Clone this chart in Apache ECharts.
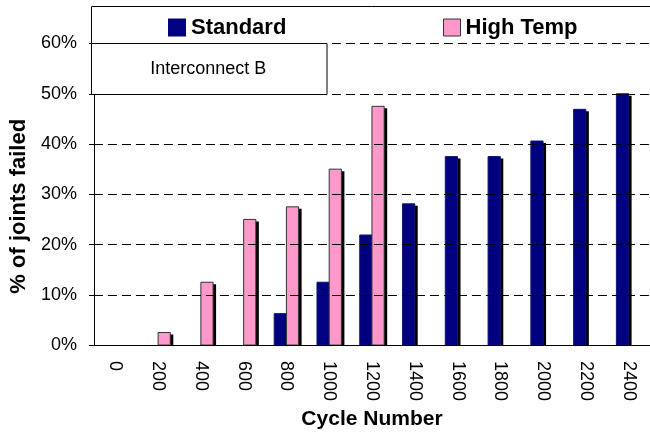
<!DOCTYPE html>
<html>
<head>
<meta charset="utf-8">
<script src="https://cdn.jsdelivr.net/npm/echarts@6/dist/echarts.min.js"></script>
<style>
  html, body { margin: 0; padding: 0; background: #fff; }
  #chart { width: 650px; height: 435px; }
</style>
</head>
<body>
<div id="chart"></div>
<script>
// Thermal cycling results: share of joints failed per cycle count
const cycles = ['0', '200', '400', '600', '800', '1000', '1200', '1400', '1600', '1800', '2000', '2200', '2400'];
const standardPct = [0, 0, 0, 0, 6.25, 12.5, 21.9, 28.1, 37.5, 37.5, 40.6, 46.9, 50];
const highTempPct = [0, 2.5, 12.5, 25, 27.5, 35, 47.5, null, null, null, null, null, null];
const yTicks = [0, 10, 20, 30, 40, 50, 60];

const FONT = '"Liberation Sans", Arial, sans-serif';
const chart = echarts.init(document.getElementById('chart'), null, { renderer: 'canvas' });

// Bar with a hard drop shadow. side -1 = left half of the category slot, +1 = right half.
function shadowBars(name, values, fill, stroke, side) {
  return {
    name: name,
    type: 'custom',
    data: values.map((v, i) => [i, v]),
    encode: { x: 0, y: 1 },
    itemStyle: { color: fill, borderColor: stroke, borderWidth: 1 },
    z: side < 0 ? 2 : 3,
    renderItem: function (params, api) {
      const v = api.value(1);
      if (!(v > 0)) return null;
      const idx = api.value(0);
      const top = api.coord([idx, v]);
      const base = api.coord([idx, 0]);
      const w = api.size([1, 0])[0] * 0.2856;
      const x = side < 0 ? top[0] - w : top[0];
      const h = base[1] - top[1];
      return {
        type: 'group',
        children: [
          { type: 'rect', shape: { x: x + 3, y: top[1] + 2, width: w, height: h - 1 }, style: { fill: '#000' } },
          { type: 'rect', shape: { x: x, y: top[1], width: w, height: h }, style: { fill: fill, stroke: stroke, lineWidth: 1 } }
        ]
      };
    }
  };
}

const legendText = { fontFamily: FONT, fontSize: 22, fontWeight: 'bold', color: '#000', lineHeight: 22 };

chart.setOption({
  animation: false,
  backgroundColor: '#fff',
  grid: { left: 90.5, top: 43.5, width: 569, height: 303.5 },
  legend: [
    {
      data: ['Standard'], left: 168, top: 16.5, padding: 0,
      itemWidth: 18, itemHeight: 18, icon: 'rect',
      itemStyle: { borderWidth: 0 },
      textStyle: legendText
    },
    {
      data: ['High Temp'], left: 443, top: 16.5, padding: 0,
      itemWidth: 17, itemHeight: 17, icon: 'rect',
      itemStyle: { borderColor: '#333', borderWidth: 1 },
      textStyle: legendText
    }
  ],
  xAxis: {
    type: 'category',
    data: cycles,
    name: 'Cycle Number',
    nameLocation: 'middle',
    nameGap: 62,
    nameTextStyle: { fontFamily: FONT, fontSize: 21, fontWeight: 'bold', color: '#000' },
    axisLine: { lineStyle: { color: '#000', width: 1 } },
    axisTick: { length: 5, lineStyle: { color: '#000' } },
    axisLabel: { rotate: -90, margin: 16, fontFamily: FONT, fontSize: 18, color: '#000' },
    z: 5
  },
  yAxis: {
    type: 'value',
    min: 0, max: 60, interval: 10,
    name: '% of joints failed',
    nameLocation: 'middle',
    nameGap: 58,
    nameRotate: 90,
    nameTextStyle: { fontFamily: FONT, fontSize: 22, fontWeight: 'bold', color: '#000', padding: [0, 24, 0, 0] },
    axisLine: { show: true, lineStyle: { color: '#000', width: 1 } },
    axisTick: { show: true, length: 5, lineStyle: { color: '#000' } },
    axisLabel: {
      margin: 17, fontFamily: FONT, fontSize: 18, color: '#000',
      formatter: v => (yTicks.includes(v) ? v + '%' : '')
    },
    splitLine: { show: true, lineStyle: { color: '#000', width: 1, type: [9, 5] } },
    z: 5
  },
  series: [
    shadowBars('Standard', standardPct, '#000080', '#0a1a70', -1),
    shadowBars('High Temp', highTempPct, '#FF99CC', '#333', 1)
  ],
  graphic: [
    // legend frame: white panel with left and top edges
    { type: 'rect', z: 1, silent: true, shape: { x: 91.5, y: 6.5, width: 570, height: 36.5 }, style: { fill: '#fff' } },
    { type: 'polyline', z: 2, silent: true, shape: { points: [[91.5, 43.5], [91.5, 6.5], [662, 6.5]] }, style: { stroke: '#000', lineWidth: 1, fill: null } },
    // caption panel
    { type: 'rect', z: 10, silent: true, shape: { x: 91.5, y: 43.5, width: 235.5, height: 51 }, style: { fill: '#fff', stroke: '#000', lineWidth: 1 } },
    { type: 'text', z: 11, silent: true, left: 209.25 - 59, top: 60, style: { text: 'Interconnect B', fontFamily: FONT, fontSize: 18, fill: '#000' } }
  ]
});
</script>
</body>
</html>
